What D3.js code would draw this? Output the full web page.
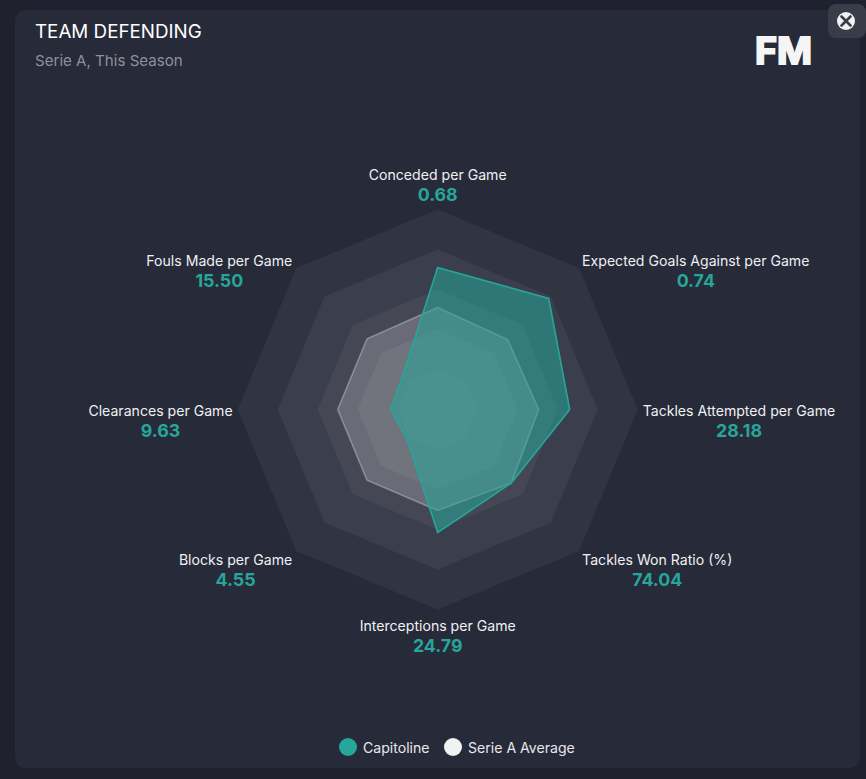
<!DOCTYPE html>
<meta charset="utf-8">
<style>
  html, body { margin: 0; padding: 0; background: #1f222e; overflow: hidden; }
  text { font-family: Inter, "Noto Sans", sans-serif; }
</style>

<!-- Load d3.js -->
<script src="https://d3js.org/d3.v7.min.js"></script>

<div id="dataviz"></div>

<script>
// clockwise from the top
const metrics = ["Conceded per Game", "Expected Goals Against per Game", "Tackles Attempted per Game",
  "Tackles Won Ratio (%)", "Interceptions per Game", "Blocks per Game", "Clearances per Game", "Fouls Made per Game"];
const metricValues = ["0.68", "0.74", "28.18", "74.04", "24.79", "4.55", "9.63", "15.50"];
// how far each team reaches along its axis (0-100)
const capitoline = [71, 78.5, 66, 52, 61.5, 21.5, 23.5, 24.5];
const average = [51, 49.5, 50.5, 52, 50.5, 50, 50, 50];
const ringLevels = [100, 80, 60, 40, 20];
const seriesNames = ["Capitoline", "Serie A Average"];

const width = 866, height = 779;
const cx = 437.7, cy = 409.5;
const teal = "#26a69a";

const svg = d3.select("#dataviz").append("svg")
  .attr("width", width)
  .attr("height", height)
  .style("display", "block");

// card
svg.append("rect")
  .attr("x", 15).attr("y", 10)
  .attr("width", 845).attr("height", 758)
  .attr("rx", 11)
  .attr("fill", "#262a39");

svg.append("text").attr("x", 35).attr("y", 31.5)
  .attr("dominant-baseline", "central")
  .attr("font-size", 18.8).attr("fill", "#ffffff")
  .text("TEAM DEFENDING");
svg.append("text").attr("x", 35).attr("y", 60)
  .attr("dominant-baseline", "central")
  .attr("font-size", 15.1).attr("fill", "#8e919c")
  .text("Serie A, This Season");

// FM logo
const logo = svg.append("g");
logo.append("text").attr("x", 755).attr("y", 63.5)
  .attr("font-family", "Liberation Sans").attr("font-weight", 700)
  .attr("font-size", 37).attr("fill", "#f5f5f5")
  .attr("stroke", "#f5f5f5").attr("stroke-width", 2)
  .attr("textLength", 57).attr("lengthAdjust", "spacingAndGlyphs")
  .text("FM");

// close button
svg.append("rect")
  .attr("x", 828).attr("y", 4)
  .attr("width", 38).attr("height", 34)
  .attr("rx", 8)
  .attr("fill", "#393d4a");
svg.append("circle").attr("cx", 846).attr("cy", 21).attr("r", 9).attr("fill", "#f2f2f2");
svg.append("path")
  .attr("d", "M841.5 16.5L850.5 25.5M850.5 16.5L841.5 25.5")
  .attr("stroke", "#393d4a").attr("stroke-width", 2.6).attr("stroke-linecap", "round");

const r = d3.scaleLinear().domain([0, 100]).range([0, 200]);
const angle = d3.scalePoint().domain(d3.range(metrics.length + 1)).range([0, 2 * Math.PI]);
const radar = d3.lineRadial()
  .angle(function (d, i) { return angle(i); })
  .radius(function (d) { return r(d); })
  .curve(d3.curveLinearClosed);

const plot = svg.append("g").attr("transform", "translate(" + cx + "," + cy + ")");

// rings stack up so the middle gets lighter
ringLevels.forEach(function (level) {
  plot.append("path")
    .attr("d", radar(metrics.map(function () { return level; })))
    .attr("fill", "#ffffff")
    .attr("fill-opacity", 0.052);
});

plot.append("path")
  .attr("d", radar(average))
  .attr("fill", "#ffffff").attr("fill-opacity", 0.2)
  .attr("stroke", "#ffffff").attr("stroke-opacity", 0.3).attr("stroke-width", 1.6);

plot.append("path")
  .attr("d", radar(capitoline))
  .attr("fill", teal).attr("fill-opacity", 0.55)
  .attr("stroke", teal).attr("stroke-width", 1.6);

// labels sit just outside the vertex, the pair is centred on the longer line
const labelGap = [0, 3, 5, 3, 0, 4, 5, 4];
const labelDy = [-35, -7.5, 1, 8.5, 16, 8.5, 1, -7.5];

metrics.forEach(function (name, i) {
  const a = angle(i);
  const vx = cx + r(100) * Math.sin(a);
  const vy = cy - r(100) * Math.cos(a);
  const side = Math.abs(Math.sin(a)) < 0.01 ? 0 : Math.sign(Math.sin(a));
  const g = svg.append("g");
  const label = g.append("text")
    .attr("text-anchor", "middle")
    .attr("dominant-baseline", "central")
    .attr("y", vy + labelDy[i])
    .attr("font-size", 14.1).attr("fill", "#f0f0f2")
    .text(name);
  const w = label.node().getComputedTextLength();
  const x = vx + side * (labelGap[i] + w / 2);
  label.attr("x", x);
  g.append("text")
    .attr("text-anchor", "middle")
    .attr("dominant-baseline", "central")
    .attr("x", x)
    .attr("y", vy + labelDy[i] + 20)
    .attr("font-size", 17.8).attr("font-weight", 700).attr("fill", teal)
    .text(metricValues[i]);
});

// legend
const legendX = [348, 453];
const legendColor = [teal, "#f2f2f2"];
seriesNames.forEach(function (name, i) {
  svg.append("circle").attr("cx", legendX[i]).attr("cy", 747).attr("r", 9).attr("fill", legendColor[i]);
  svg.append("text").attr("x", legendX[i] + 15).attr("y", 747.5)
    .attr("dominant-baseline", "central")
    .attr("font-size", 14.1).attr("fill", "#e8e8ec")
    .text(name);
});
</script>
</html>
